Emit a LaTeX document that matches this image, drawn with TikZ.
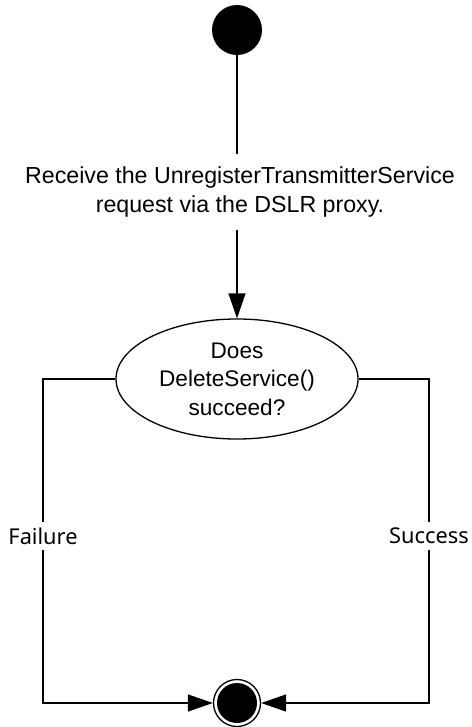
\documentclass[tikz,border=0pt]{standalone}
\usepackage{fontspec}
\setmainfont{Liberation Sans}
\newfontfamily\labfont{Noto Sans}
\usetikzlibrary{arrows.meta,shapes.geometric}
\tikzset{
  conn/.style={line width=1.3pt, draw=black},
  tip/.style={-{Triangle[length=25pt,width=17pt]}},
  maintext/.style={font=\fontsize{23.2}{29}\selectfont, align=center, inner xsep=2pt, inner ysep=12.5pt},
  dectext/.style={ellipse, draw, line width=1.3pt, minimum width=242pt, minimum height=120pt, inner sep=0pt, align=center, font=\fontsize{22.6}{28.5}\selectfont},
  guard/.style={font=\labfont\fontsize{21.8}{25}\selectfont, minimum height=28pt, inner sep=0pt},
  startnode/.style={circle, fill=black, minimum size=50pt, inner sep=0pt},
  endnode/.style={circle, draw, line width=1.3pt, minimum size=47pt, inner sep=0pt}
}
\begin{document}
\begin{tikzpicture}[x=1pt,y=-1pt]
\useasboundingbox (0,0) rectangle (471,727);
\node[startnode] (start) at (237,30) {};
\node[maintext] (lbl) at (240,192) {Receive the UnregisterTransmitterService\\request via the DSLR proxy.};
\node[dectext] (dec) at (237,379) {Does\\DeleteService()\\succeed?};
\node[guard] (fail) at (43,536) {Failure};
\node[guard] (succ) at (429,536) {Success};
\node[endnode] (endc) at (237,703) {};
\fill (endc.center) circle (20pt);
\draw[conn] (start) -- (start |- lbl.north);
\draw[conn, tip] (start |- lbl.south) -- (dec);
\draw[conn, tip] (dec.west) -| (fail) |- (endc);
\draw[conn, tip] (dec.east) -| (succ) |- (endc);
\end{tikzpicture}
\end{document}
